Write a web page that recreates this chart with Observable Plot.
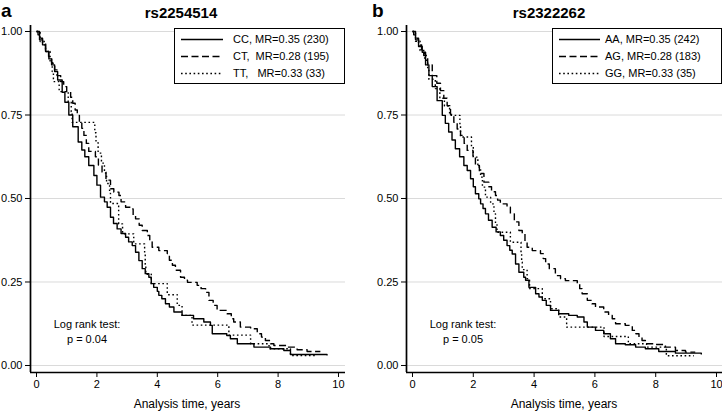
<!DOCTYPE html>
<html><head><meta charset="utf-8">
<script src="https://cdn.jsdelivr.net/npm/d3@7"></script>
<script src="https://cdn.jsdelivr.net/npm/@observablehq/plot@0.6"></script>
<style>
body{margin:0;background:#fff;font-family:"Liberation Sans",Arial,sans-serif;color:#000;}
#wrap{position:relative;width:722px;height:412px;overflow:hidden;background:#fff;}
.abs{position:absolute;white-space:pre;line-height:1;}
.panelLetter{font-weight:bold;font-size:19px;}
.title{font-weight:bold;font-size:15px;transform:translateX(-50%);}
.xlab{font-size:12px;transform:translateX(-50%);}
.lr{font-size:11px;text-align:center;transform:translateX(-50%);line-height:15px;}
.legend{border:1px solid #000;background:#fff;box-sizing:border-box;}
.legrow{position:absolute;left:0;height:17px;display:flex;align-items:center;font-size:11px;}
</style>
</head><body>
<div id="wrap"></div>
<script>
// ---------- data ----------
const xTicks = [0, 2, 4, 6, 8, 10];
const yTicks = [0, 0.25, 0.5, 0.75, 1];
const panelLetters = ["a", "b"];
const panelTitles = ["rs2254514", "rs2322262"];
const legendA = ["CC, MR=0.35 (230)", "CT,  MR=0.28 (195)", "TT,   MR=0.33 (33)"];
const legendB = ["AA, MR=0.35 (242)", "AG, MR=0.28 (183)", "GG, MR=0.33 (35)"];
const logRankLabel = "Log rank test:";
const logRankP = ["p = 0.04", "p = 0.05"];
const xLabel = "Analysis time, years";

// Kaplan-Meier estimates: [time (years), survival]
const a_CC = [[0,1],[0.05,0.99],[0.1,0.975],[0.2,0.96],[0.3,0.94],[0.41,0.918],[0.5,0.9],[0.6,0.88],[0.7,0.855],[0.85,0.818],[0.94,0.788],[1.07,0.75],[1.2,0.715],[1.38,0.669],[1.5,0.645],[1.6,0.625],[1.73,0.599],[1.9,0.569],[2.0,0.54],[2.12,0.504],[2.25,0.49],[2.34,0.474],[2.45,0.444],[2.55,0.425],[2.67,0.409],[2.8,0.395],[2.95,0.384],[3.05,0.37],[3.17,0.359],[3.28,0.339],[3.39,0.314],[3.5,0.29],[3.6,0.275],[3.72,0.264],[3.8,0.245],[3.88,0.234],[4.0,0.222],[4.05,0.21],[4.15,0.2],[4.27,0.185],[4.4,0.175],[4.55,0.16],[4.82,0.15],[5.2,0.14],[5.54,0.13],[5.76,0.12],[5.82,0.095],[6.3,0.09],[6.42,0.08],[6.65,0.065],[7.2,0.055],[7.75,0.05],[8.19,0.045],[8.41,0.033],[9.62,0.03]];
const a_CT = [[0,1],[0.1,0.98],[0.2,0.96],[0.3,0.94],[0.4,0.925],[0.5,0.905],[0.6,0.885],[0.68,0.868],[0.8,0.85],[0.9,0.835],[1.0,0.82],[1.13,0.803],[1.2,0.785],[1.28,0.765],[1.35,0.749],[1.42,0.73],[1.5,0.71],[1.57,0.689],[1.65,0.665],[1.73,0.641],[1.95,0.625],[2.05,0.6],[2.17,0.579],[2.3,0.555],[2.45,0.529],[2.56,0.519],[2.73,0.509],[2.8,0.49],[2.95,0.474],[3.11,0.469],[3.2,0.45],[3.28,0.439],[3.4,0.42],[3.5,0.404],[3.67,0.389],[3.75,0.37],[3.83,0.354],[4.05,0.344],[4.33,0.335],[4.4,0.315],[4.5,0.3],[4.6,0.285],[4.77,0.264],[4.9,0.255],[5.0,0.249],[5.32,0.24],[5.45,0.23],[5.6,0.219],[5.71,0.195],[5.85,0.18],[5.98,0.165],[6.31,0.155],[6.45,0.14],[6.53,0.13],[6.75,0.115],[7.09,0.11],[7.31,0.095],[7.45,0.085],[7.58,0.075],[7.75,0.065],[7.86,0.06],[8.3,0.055],[8.63,0.047],[8.96,0.042],[9.4,0.042]];
const a_TT = [[0,1],[0.12,0.97],[0.3,0.94],[0.45,0.91],[0.52,0.88],[0.56,0.85],[0.75,0.82],[1.05,0.79],[1.15,0.76],[1.18,0.728],[1.93,0.697],[1.97,0.667],[2.04,0.636],[2.15,0.606],[2.25,0.576],[2.32,0.545],[2.42,0.515],[2.45,0.485],[2.72,0.424],[2.85,0.394],[3.22,0.364],[3.58,0.333],[3.6,0.303],[3.62,0.273],[3.8,0.245],[4.33,0.212],[4.66,0.18],[4.82,0.15],[5.15,0.121],[6.37,0.091],[7.09,0.065],[7.7,0.05],[8.41,0.03],[9.25,0.03]];

const b_AA = [[0,1],[0.04,0.99],[0.1,0.975],[0.2,0.955],[0.32,0.938],[0.43,0.9],[0.54,0.868],[0.65,0.835],[0.81,0.793],[0.98,0.749],[1.08,0.725],[1.19,0.699],[1.3,0.675],[1.41,0.649],[1.55,0.625],[1.69,0.599],[1.8,0.584],[1.91,0.559],[2.0,0.535],[2.07,0.514],[2.18,0.499],[2.24,0.484],[2.32,0.47],[2.4,0.454],[2.5,0.435],[2.62,0.414],[2.75,0.4],[2.89,0.389],[3.0,0.375],[3.11,0.359],[3.2,0.345],[3.28,0.334],[3.39,0.304],[3.5,0.279],[3.66,0.264],[3.72,0.255],[3.83,0.234],[4.05,0.215],[4.16,0.205],[4.27,0.195],[4.4,0.18],[4.54,0.165],[4.81,0.155],[5.14,0.15],[5.42,0.145],[5.64,0.13],[5.75,0.115],[6.02,0.105],[6.29,0.095],[6.51,0.08],[6.68,0.065],[7.0,0.062],[7.34,0.055],[7.66,0.05],[8.1,0.042],[8.65,0.037],[9.5,0.033]];
const b_AG = [[0,1],[0.1,0.98],[0.2,0.96],[0.3,0.94],[0.37,0.928],[0.5,0.9],[0.65,0.868],[0.8,0.845],[0.92,0.823],[1.03,0.8],[1.14,0.778],[1.25,0.752],[1.36,0.728],[1.47,0.708],[1.58,0.689],[1.7,0.665],[1.8,0.644],[1.99,0.625],[2.07,0.599],[2.2,0.575],[2.35,0.549],[2.51,0.535],[2.6,0.52],[2.73,0.509],[2.8,0.495],[2.89,0.484],[3.11,0.474],[3.22,0.454],[3.35,0.43],[3.5,0.404],[3.61,0.394],[3.7,0.37],[3.77,0.354],[3.94,0.344],[4.21,0.335],[4.3,0.32],[4.38,0.304],[4.5,0.29],[4.7,0.269],[4.87,0.26],[5.03,0.254],[5.42,0.245],[5.5,0.23],[5.58,0.215],[5.75,0.195],[5.9,0.185],[6.02,0.175],[6.29,0.16],[6.45,0.15],[6.57,0.14],[6.68,0.125],[7.0,0.12],[7.23,0.105],[7.35,0.095],[7.45,0.085],[7.55,0.075],[7.66,0.065],[8.0,0.063],[8.32,0.055],[8.65,0.045],[8.98,0.04],[9.3,0.04]];
const b_GG = [[0,1],[0.1,0.971],[0.25,0.943],[0.4,0.914],[0.5,0.886],[0.54,0.857],[0.75,0.829],[0.9,0.8],[1.05,0.777],[1.22,0.749],[1.56,0.717],[1.58,0.684],[1.94,0.654],[2.0,0.624],[2.15,0.594],[2.24,0.564],[2.3,0.534],[2.4,0.504],[2.57,0.484],[2.68,0.454],[2.73,0.424],[2.78,0.399],[3.22,0.369],[3.57,0.339],[3.59,0.309],[3.61,0.287],[3.77,0.26],[3.85,0.23],[4.27,0.2],[4.54,0.17],[4.81,0.145],[5.07,0.115],[6.3,0.087],[7.1,0.065],[7.7,0.055],[8.35,0.029],[9.25,0.029]];

// ---------- styles ----------
const dashes = [null, "7,3.5", "1.6,2.6"];
const lineW = 1.4;

const wrap = document.getElementById("wrap");
function addDiv(cls, text, css) {
  const d = document.createElement("div");
  d.className = "abs " + cls;
  d.textContent = text;
  Object.assign(d.style, css);
  wrap.appendChild(d);
  return d;
}

function makePanel(series, opts) {
  const marks = [
    Plot.ruleY(yTicks, {stroke: "#dadada", strokeWidth: 1}),
    Plot.axisY(yTicks, {tickSize: 5, tickPadding: 3, tickFormat: d3.format(".2f"), label: null, fontSize: 11}),
    Plot.axisX(xTicks, {tickSize: 5, tickPadding: 3, tickFormat: d => String(d), label: null, fontSize: 11}),
    Plot.ruleX([opts.xd[0]], {stroke: "#000", strokeWidth: 1.7}),
    Plot.ruleY([opts.yd[0]], {stroke: "#000", strokeWidth: 1.7})
  ];
  series.forEach((s, i) => {
    marks.push(Plot.line(s, {x: d => d[0], y: d => d[1], curve: "step-after", stroke: "#000",
      strokeWidth: lineW, strokeDasharray: dashes[i] ?? undefined, strokeLinecap: "butt"}));
  });
  const p = Plot.plot({
    width: 361, height: 412,
    marginLeft: opts.ml, marginRight: opts.mr, marginTop: 25, marginBottom: 40,
    style: {fontFamily: "'Liberation Sans', Arial, sans-serif", fontSize: "11px", color: "#000", background: "transparent"},
    x: {domain: opts.xd},
    y: {domain: opts.yd},
    marks
  });
  p.style.position = "absolute";
  p.style.left = opts.left + "px";
  p.style.top = "0px";
  wrap.appendChild(p);
}

makePanel([a_CC, a_CT, a_TT], {left: 0, ml: 30, mr: 16, xd: [-0.199, 10.232], yd: [-0.021, 1.018]});
makePanel([b_AA, b_AG, b_GG], {left: 361, ml: 45, mr: 0, xd: [-0.197, 10.197], yd: [-0.021, 1.018]});

// titles
addDiv("panelLetter", panelLetters[0], {left: "1px", top: "1px"});
addDiv("panelLetter", panelLetters[1], {left: "372px", top: "1px"});
addDiv("title", panelTitles[0], {left: "181px", top: "5px"});
addDiv("title", panelTitles[1], {left: "549px", top: "5px"});
// x labels
addDiv("xlab", xLabel, {left: "187px", top: "398px"});
addDiv("xlab", xLabel, {left: "564px", top: "398px"});
// log rank
addDiv("lr", logRankLabel + "\n" + logRankP[0], {left: "87px", top: "317px"});
addDiv("lr", logRankLabel + "\n" + logRankP[1], {left: "463px", top: "317px"});

// legends
function legend(labels, box) {
  const d = document.createElement("div");
  d.className = "abs legend";
  Object.assign(d.style, {left: box.x + "px", top: box.y + "px", width: box.w + "px", height: box.h + "px"});
  labels.forEach((lab, i) => {
    const row = document.createElement("div");
    row.className = "legrow";
    row.style.top = (2 + i * 17) + "px";
    const ns = "http://www.w3.org/2000/svg";
    const svg = document.createElementNS(ns, "svg");
    svg.setAttribute("width", box.sw);
    svg.setAttribute("height", 17);
    svg.style.display = "block";
    const ln = document.createElementNS(ns, "line");
    ln.setAttribute("x1", box.lx1); ln.setAttribute("x2", box.lx2);
    ln.setAttribute("y1", 8.5); ln.setAttribute("y2", 8.5);
    ln.setAttribute("stroke", "#000"); ln.setAttribute("stroke-width", lineW);
    if (dashes[i]) ln.setAttribute("stroke-dasharray", dashes[i]);
    svg.appendChild(ln);
    row.appendChild(svg);
    const t = document.createElement("span");
    t.textContent = lab;
    t.style.whiteSpace = "pre";
    row.appendChild(t);
    d.appendChild(row);
  });
  wrap.appendChild(d);
}
legend(legendA, {x: 174, y: 28, w: 171, h: 56, sw: 58, lx1: 6, lx2: 48});
legend(legendB, {x: 552, y: 28, w: 170, h: 56, sw: 52, lx1: 6, lx2: 47});
</script>
</body></html>
